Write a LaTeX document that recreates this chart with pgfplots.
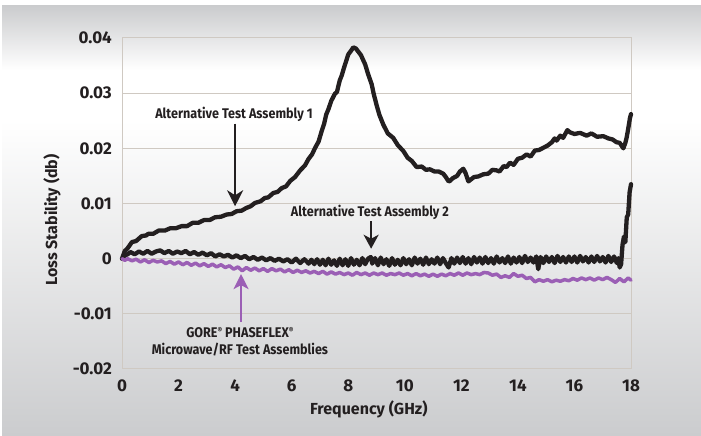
\documentclass[border=0pt]{standalone}
\usepackage{pgfplots}
\pgfplotsset{compat=1.18}
\usetikzlibrary{arrows.meta}
\usepackage{fontspec}
\setmainfont{Fira Sans}
\definecolor{ink}{HTML}{231F20}
\definecolor{gridc}{HTML}{CFC9C2}
\definecolor{purp}{HTML}{9B5FB5}
\definecolor{bggray}{HTML}{CBCCCE}
\begin{document}
\begin{tikzpicture}[x=1pt,y=1pt]
\useasboundingbox (0,0) rectangle (701,436);
\fill[white] (0,0) rectangle (701,436);
\shade[top color=bggray, bottom color=white] (2,366) rectangle (701,430);
\shade[top color=white, bottom color=bggray] (2,0) rectangle (701,316);
\begin{axis}[
  at={(122pt,67pt)}, anchor=south west,
  scale only axis, width=509pt, height=331pt,
  xmin=0, xmax=18, ymin=-0.02, ymax=0.04,
  xtick={0,2,4,6,8,10,12,14,16,18},
  xticklabels={0,2,4,6,8,10,12,14,16,18},
  ytick={-0.02,-0.01,0,0.01,0.02,0.03,0.04},
  yticklabels={-0.02,-0.01,0,0.01,0.02,0.03,0.04},
  scaled y ticks=false,
  ymajorgrids, grid style={gridc, line width=1pt},
  axis line style={gridc, line width=1pt},
  major tick length=0pt, tick style={draw=none},
  ticklabel style={font=\fontsize{17}{17}\selectfont\bfseries, text=ink, inner sep=0pt},
  yticklabel style={anchor=east, xshift=-10pt},
  xticklabel style={anchor=north, yshift=-11pt},
  xlabel={Frequency (GHz)},
  ylabel={Loss Stability (db)},
  label style={font=\fontsize{16}{16}\selectfont\bfseries, text=ink},
  xlabel style={at={(axis description cs:0.485,-0.121)}, anchor=center},
  ylabel style={at={(axis description cs:-0.1375,0.45)}, anchor=center},
  clip=false,
  every axis plot/.append style={line join=round, line cap=round},
]
% Alternative Test Assembly 1
\addplot[ink, line width=4.3pt] coordinates {
(0,0) (0.1,0.0014) (0.2,0.0019) (0.35,0.0030) (0.5,0.0032) (0.7,0.0041) (0.85,0.0042)
(0.93,0.0045) (1.1,0.0045) (1.3,0.0051) (1.52,0.0051) (1.7,0.0055) (1.9,0.0055) (2.11,0.0059)
(2.3,0.0059) (2.5,0.0065) (2.7,0.0065) (2.9,0.0070) (3.1,0.0070) (3.29,0.0075)
(3.5,0.0076) (3.7,0.0080) (3.88,0.0081) (4.05,0.0086) (4.23,0.0087) (4.4,0.0092)
(4.55,0.0095) (4.7,0.0101) (4.9,0.0104) (5.05,0.0110) (5.17,0.0111) (5.35,0.0119)
(5.5,0.0121) (5.65,0.0128) (5.8,0.0131) (5.95,0.0141) (6.12,0.0148) (6.3,0.0160)
(6.47,0.0169) (6.6,0.0181) (6.72,0.0189) (6.83,0.0201) (6.95,0.0212) (7.06,0.0231)
(7.15,0.0245) (7.22,0.0261) (7.30,0.0271) (7.4,0.0286) (7.53,0.0299) (7.6,0.0302)
(7.7,0.0323) (7.77,0.0332) (7.85,0.0346) (7.92,0.0357) (8.00,0.0370) (8.1,0.0377)
(8.18,0.0383) (8.27,0.0381) (8.36,0.0375) (8.45,0.0369) (8.52,0.0361) (8.60,0.0352)
(8.7,0.0335) (8.83,0.0316) (8.9,0.0299) (9.0,0.0279) (9.1,0.0261) (9.24,0.0243)
(9.4,0.0227) (9.59,0.0219) (9.75,0.0206) (9.95,0.0195) (10.1,0.0183) (10.25,0.0177)
(10.42,0.0166) (10.6,0.0167) (10.75,0.0161) (10.89,0.0162) (11.05,0.0158) (11.2,0.0158)
(11.36,0.0154) (11.45,0.0148) (11.55,0.0140) (11.6,0.0141) (11.7,0.0146) (11.85,0.0150)
(11.95,0.0158) (12.07,0.0163) (12.15,0.0155) (12.25,0.0140) (12.3,0.0142) (12.45,0.0148)
(12.6,0.0149) (12.78,0.0153) (12.95,0.0154) (13.1,0.0161) (13.25,0.0160) (13.35,0.0158)
(13.5,0.0168) (13.6,0.0166) (13.72,0.0174) (13.85,0.0170) (14.0,0.0181) (14.15,0.0183)
(14.31,0.0189) (14.45,0.0185) (14.6,0.0196) (14.75,0.0197) (14.9,0.0201) (15.05,0.0205)
(15.2,0.0211) (15.3,0.0218) (15.37,0.0214) (15.5,0.0223) (15.6,0.0219) (15.75,0.0233)
(15.84,0.0229) (16.0,0.0226) (16.2,0.0228) (16.43,0.0223) (16.6,0.0227) (16.8,0.0221)
(17.02,0.0222) (17.2,0.0218) (17.35,0.0216) (17.49,0.0211) (17.6,0.0210) (17.73,0.0200)
(17.8,0.0210) (17.84,0.0218) (17.9,0.0235) (17.96,0.0254) (18.0,0.0262)
};
% Alternative Test Assembly 2
\addplot[ink, line width=4.3pt] coordinates {
(0,0) (0.1,0.0006) (0.2,0.0008) (0.3,0.0012) (0.45,0.0008) (0.6,0.0013) (0.75,0.0009)
(0.9,0.0014) (1.05,0.0009) (1.2,0.0013) (1.35,0.0015) (1.5,0.0010) (1.65,0.0014)
(1.8,0.0009) (1.95,0.0013) (2.1,0.0010) (2.25,0.0014) (2.4,0.0008) (2.55,0.0012)
(2.7,0.0007) (2.85,0.0011) (3.0,0.0006) (3.15,0.0010) (3.3,0.0004) (3.45,0.0008)
(3.6,0.0004) (3.75,0.0007) (3.9,0.0002) (4.05,0.0006) (4.2,0.0001) (4.35,0.0005)
(4.5,-0.0001) (4.65,0.0003) (4.8,-0.0002) (4.95,0.0002) (5.1,-0.0003) (5.25,0.0001)
(5.4,-0.0004) (5.55,0.0000) (5.7,-0.0005) (5.85,-0.0001) (6.0,-0.0007) (6.15,0.0000)
(6.3,-0.0008) (6.45,-0.0001) (6.6,-0.0009) (6.7,-0.0002) (6.8,-0.0010) (6.9,-0.0001)
(7.0,-0.0011) (7.1,-0.0002) (7.2,-0.0012) (7.3,0.0000) (7.4,-0.0011) (7.5,-0.0003)
(7.6,-0.0013) (7.7,0.0000) (7.8,-0.0012) (7.9,-0.0001) (8.0,-0.0013) (8.1,0.0001)
(8.2,-0.0011) (8.3,-0.0002) (8.4,-0.0012) (8.5,0.0001) (8.6,-0.0010) (8.7,0.0000)
(8.8,0.0003) (8.85,-0.0009) (8.95,0.0001) (9.05,-0.0012) (9.15,0.0002) (9.25,-0.0010)
(9.35,-0.0001) (9.45,-0.0013) (9.55,0.0001) (9.65,-0.0011) (9.75,-0.0002) (9.85,-0.0012)
(9.95,0.0001) (10.05,-0.0010) (10.15,-0.0001) (10.25,-0.0012) (10.35,0.0002) (10.45,-0.0009)
(10.55,0.0000) (10.65,-0.0011) (10.75,0.0002) (10.85,-0.0010) (10.95,-0.0001) (11.05,-0.0009)
(11.15,0.0002) (11.25,-0.0010) (11.35,0.0001) (11.45,-0.0008) (11.55,-0.0016) (11.65,0.0001)
(11.75,-0.0009) (11.85,0.0002) (11.95,-0.0008) (12.05,0.0003) (12.15,-0.0009) (12.25,0.0001)
(12.35,-0.0010) (12.45,0.0003) (12.55,-0.0007) (12.65,0.0002) (12.75,-0.0009) (12.85,0.0003)
(12.95,-0.0008) (13.05,0.0001) (13.15,-0.0009) (13.25,0.0004) (13.35,-0.0007) (13.45,0.0001)
(13.55,-0.0008) (13.65,0.0004) (13.75,-0.0009) (13.85,0.0002) (13.95,-0.0007) (14.05,0.0003)
(14.15,-0.0008) (14.25,0.0005) (14.35,-0.0006) (14.45,0.0002) (14.55,-0.0007) (14.65,0.0004)
(14.72,-0.0019) (14.8,0.0003) (14.9,-0.0008) (15.0,0.0004) (15.1,-0.0006) (15.2,0.0003)
(15.3,-0.0008) (15.4,0.0005) (15.5,-0.0006) (15.6,0.0003) (15.7,-0.0007) (15.8,0.0004)
(15.9,-0.0006) (16.0,0.0004) (16.1,-0.0007) (16.2,0.0005) (16.3,-0.0005) (16.4,0.0003)
(16.5,-0.0007) (16.6,0.0004) (16.7,-0.0006) (16.8,0.0005) (16.9,-0.0005) (17.0,0.0003)
(17.1,-0.0007) (17.2,0.0005) (17.3,-0.0006) (17.4,0.0004) (17.5,-0.0008) (17.55,0.0001)
(17.6,-0.0016) (17.65,-0.0010) (17.7,0.0025) (17.75,0.0040) (17.8,0.0030) (17.85,0.0075)
(17.9,0.0080) (17.95,0.0120) (18.0,0.0135)
};
% GORE PHASEFLEX
\addplot[purp, line width=3.5pt] coordinates {
(0,0) (0.1,-0.0003) (0.2,0.0000) (0.35,-0.0004) (0.5,-0.0001) (0.65,-0.0006) (0.8,-0.0002)
(0.95,-0.0007) (1.1,-0.0003) (1.25,-0.0006) (1.4,-0.0004) (1.55,-0.0009) (1.7,-0.0005)
(1.85,-0.0010) (2.0,-0.0006) (2.15,-0.0011) (2.3,-0.0007) (2.45,-0.0012) (2.6,-0.0008)
(2.75,-0.0013) (2.9,-0.0009) (3.05,-0.0014) (3.2,-0.0010) (3.35,-0.0015) (3.5,-0.0011)
(3.65,-0.0016) (3.8,-0.0013) (3.95,-0.0019) (4.1,-0.0015) (4.25,-0.0022) (4.4,-0.0016)
(4.55,-0.0021) (4.7,-0.0017) (4.85,-0.0022) (5.0,-0.0018) (5.15,-0.0023) (5.3,-0.0018)
(5.45,-0.0022) (5.6,-0.0019) (5.75,-0.0024) (5.9,-0.0020) (6.05,-0.0025) (6.2,-0.0021)
(6.35,-0.0025) (6.5,-0.0022) (6.65,-0.0026) (6.8,-0.0023) (6.95,-0.0027) (7.1,-0.0023)
(7.25,-0.0028) (7.4,-0.0024) (7.55,-0.0028) (7.7,-0.0025) (7.85,-0.0029) (8.0,-0.0026)
(8.15,-0.0030) (8.3,-0.0025) (8.45,-0.0029) (8.6,-0.0026) (8.75,-0.0030) (8.9,-0.0026)
(9.05,-0.0029) (9.2,-0.0026) (9.35,-0.0030) (9.5,-0.0027) (9.65,-0.0029) (9.8,-0.0026)
(9.95,-0.0030) (10.1,-0.0027) (10.25,-0.0031) (10.4,-0.0027) (10.55,-0.0031) (10.7,-0.0028)
(10.85,-0.0032) (11.0,-0.0028) (11.15,-0.0032) (11.3,-0.0028) (11.45,-0.0031) (11.6,-0.0027)
(11.75,-0.0030) (11.9,-0.0026) (12.05,-0.0030) (12.2,-0.0026) (12.35,-0.0029) (12.5,-0.0027)
(12.65,-0.0029) (12.8,-0.0025) (12.95,-0.0026) (13.1,-0.0030) (13.25,-0.0028) (13.4,-0.0034)
(13.55,-0.0031) (13.7,-0.0034) (13.85,-0.0027) (14.0,-0.0032) (14.15,-0.0030) (14.3,-0.0036)
(14.45,-0.0034) (14.6,-0.0042) (14.75,-0.0038) (14.9,-0.0041) (15.05,-0.0038) (15.2,-0.0042)
(15.35,-0.0039) (15.5,-0.0041) (15.65,-0.0038) (15.8,-0.0040) (15.95,-0.0036) (16.1,-0.0039)
(16.25,-0.0035) (16.4,-0.0038) (16.55,-0.0035) (16.7,-0.0039) (16.85,-0.0035) (17.0,-0.0038)
(17.15,-0.0034) (17.3,-0.0038) (17.45,-0.0043) (17.6,-0.0036) (17.75,-0.0042) (17.9,-0.0035)
(18.0,-0.0039)
};
% annotations
\node[font=\fontsize{14}{14}\selectfont\bfseries, text=ink, inner sep=0pt]
  at (axis cs:3.96,0.0262) {\scalebox{0.9}[1]{Alternative Test Assembly 1}};
\draw[ink, line width=2.2pt, -{Stealth[length=16pt, width=16pt, inset=5pt]}]
  (axis cs:4.0,0.0245) -- (axis cs:4.0,0.0095);
\node[font=\fontsize{14}{14}\selectfont\bfseries, text=ink, inner sep=0pt]
  at (axis cs:8.77,0.0083) {\scalebox{0.9}[1]{Alternative Test Assembly 2}};
\draw[ink, line width=2.2pt, -{Stealth[length=14pt, width=15pt, inset=4pt]}]
  (axis cs:8.81,0.0068) -- (axis cs:8.81,0.0018);
\draw[purp, line width=2.2pt, -{Stealth[length=15pt, width=15pt, inset=4pt]}]
  (axis cs:4.21,-0.0115) -- (axis cs:4.21,-0.0028);
\node[font=\fontsize{14}{17}\selectfont\bfseries, text=ink, inner sep=0pt, align=center]
  at (axis cs:4.17,-0.0150) {\scalebox{0.9}[1]{GORE\raisebox{0.45ex}{\fontsize{8}{8}\selectfont\textregistered} PHASEFLEX\raisebox{0.45ex}{\fontsize{8}{8}\selectfont\textregistered}}\\\scalebox{0.9}[1]{Microwave/RF Test Assemblies}};
\end{axis}
\end{tikzpicture}
\end{document}
